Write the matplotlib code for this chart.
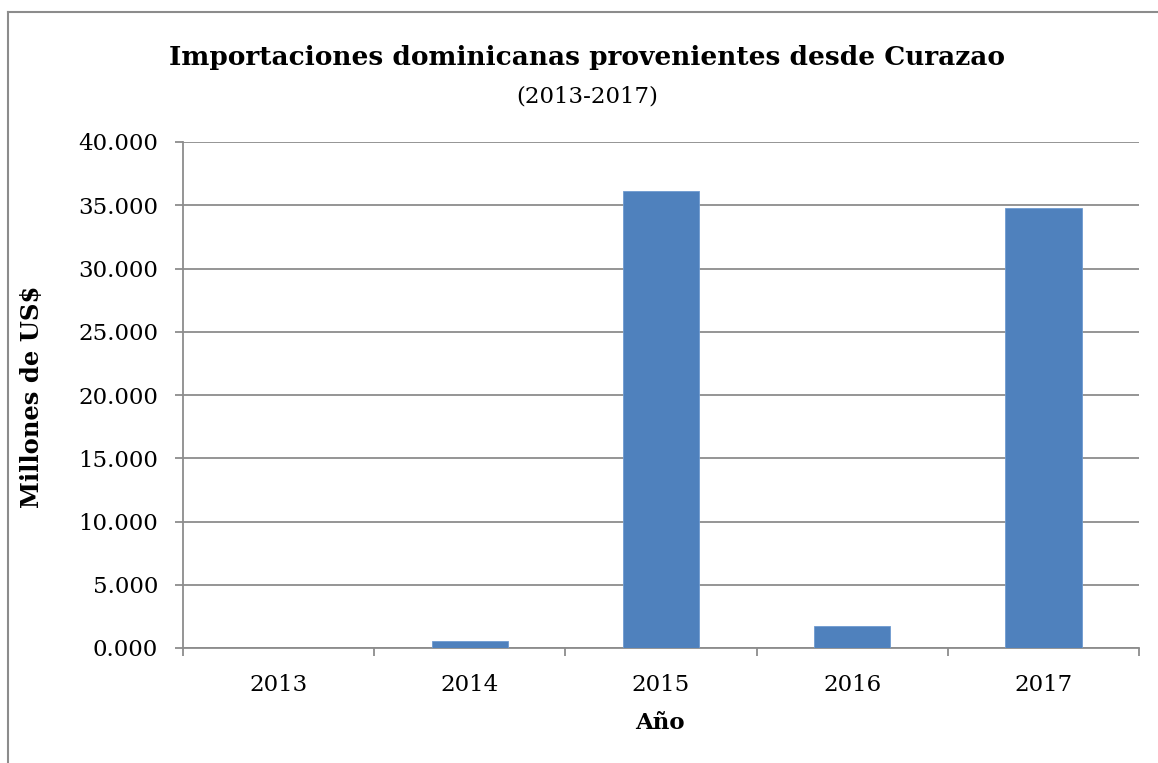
import matplotlib
matplotlib.use("Agg")
import matplotlib.pyplot as plt
from matplotlib.lines import Line2D
from matplotlib.ticker import FixedLocator, FuncFormatter

years = ["2013", "2014", "2015", "2016", "2017"]
values = [0.0, 560.0, 36150.0, 1750.0, 34750.0]
yticks = [0, 5000, 10000, 15000, 20000, 25000, 30000, 35000, 40000]

W, H = 1158, 763
fig = plt.figure(figsize=(W / 100, H / 100), dpi=100)
plt.rcParams['font.family'] = ['DejaVu Serif']

gray = "#8c8c8c"
ax = fig.add_axes([183 / W, 1 - 648 / H, (1139 - 183) / W, (648 - 142) / H])
x = list(range(len(years)))
ax.bar(x, values, width=0.4, color="#4F81BD", edgecolor="#6f9bd0", linewidth=0.6, zorder=3)
ax.set_xlim(-0.5, 4.5)
ax.set_ylim(0, 40000)
ax.set_yticks(yticks)
ax.yaxis.set_major_formatter(FuncFormatter(lambda v, p: f"{v/1000:.3f}"))
ax.set_xticks(x)
ax.set_xticklabels(years)
ax.xaxis.set_minor_locator(FixedLocator([-0.5, 0.5, 1.5, 2.5, 3.5, 4.5]))
ax.tick_params(axis="x", which="major", length=0, pad=19, labelsize=16.5)
ax.tick_params(axis="x", which="minor", length=6, width=1.3, color=gray, direction="out")
ax.tick_params(axis="y", length=6, width=1.3, color=gray, direction="out", pad=12, labelsize=16.5)
ax.grid(axis="y", color=gray, linewidth=1.3, zorder=0)
for s in ["top", "right"]:
    ax.spines[s].set_visible(False)
for s in ["left", "bottom"]:
    ax.spines[s].set_color(gray)
    ax.spines[s].set_linewidth(1.3)

ax.set_xlabel("Año", fontsize=16.5, fontweight="bold")
ax.set_ylabel("Millones de US$", fontsize=17.5, fontweight="bold")
ax.xaxis.set_label_coords(0.499, (648 - 723) / (648 - 142), transform=ax.transAxes)
ax.xaxis.label.set_va("center")
ax.yaxis.set_label_coords((32 - 183) / (1139 - 183), (648 - 397) / (648 - 142), transform=ax.transAxes)
ax.yaxis.label.set_va("center")

fig.text(587 / W, 1 - 57 / H, "Importaciones dominicanas provenientes desde Curazao",
         ha="center", va="center", fontsize=19, fontweight="bold")
fig.text(587 / W, 1 - 97 / H, "(2013-2017)", ha="center", va="center", fontsize=16.5)

# outer border (left and top only visible)
fig.add_artist(Line2D([8 / W, 8 / W], [0, 1 - 12 / H], color=gray, linewidth=1.5, transform=fig.transFigure))
fig.add_artist(Line2D([8 / W, 1], [1 - 12 / H, 1 - 12 / H], color=gray, linewidth=1.5, transform=fig.transFigure))

fig.savefig("out.png", dpi=100)
